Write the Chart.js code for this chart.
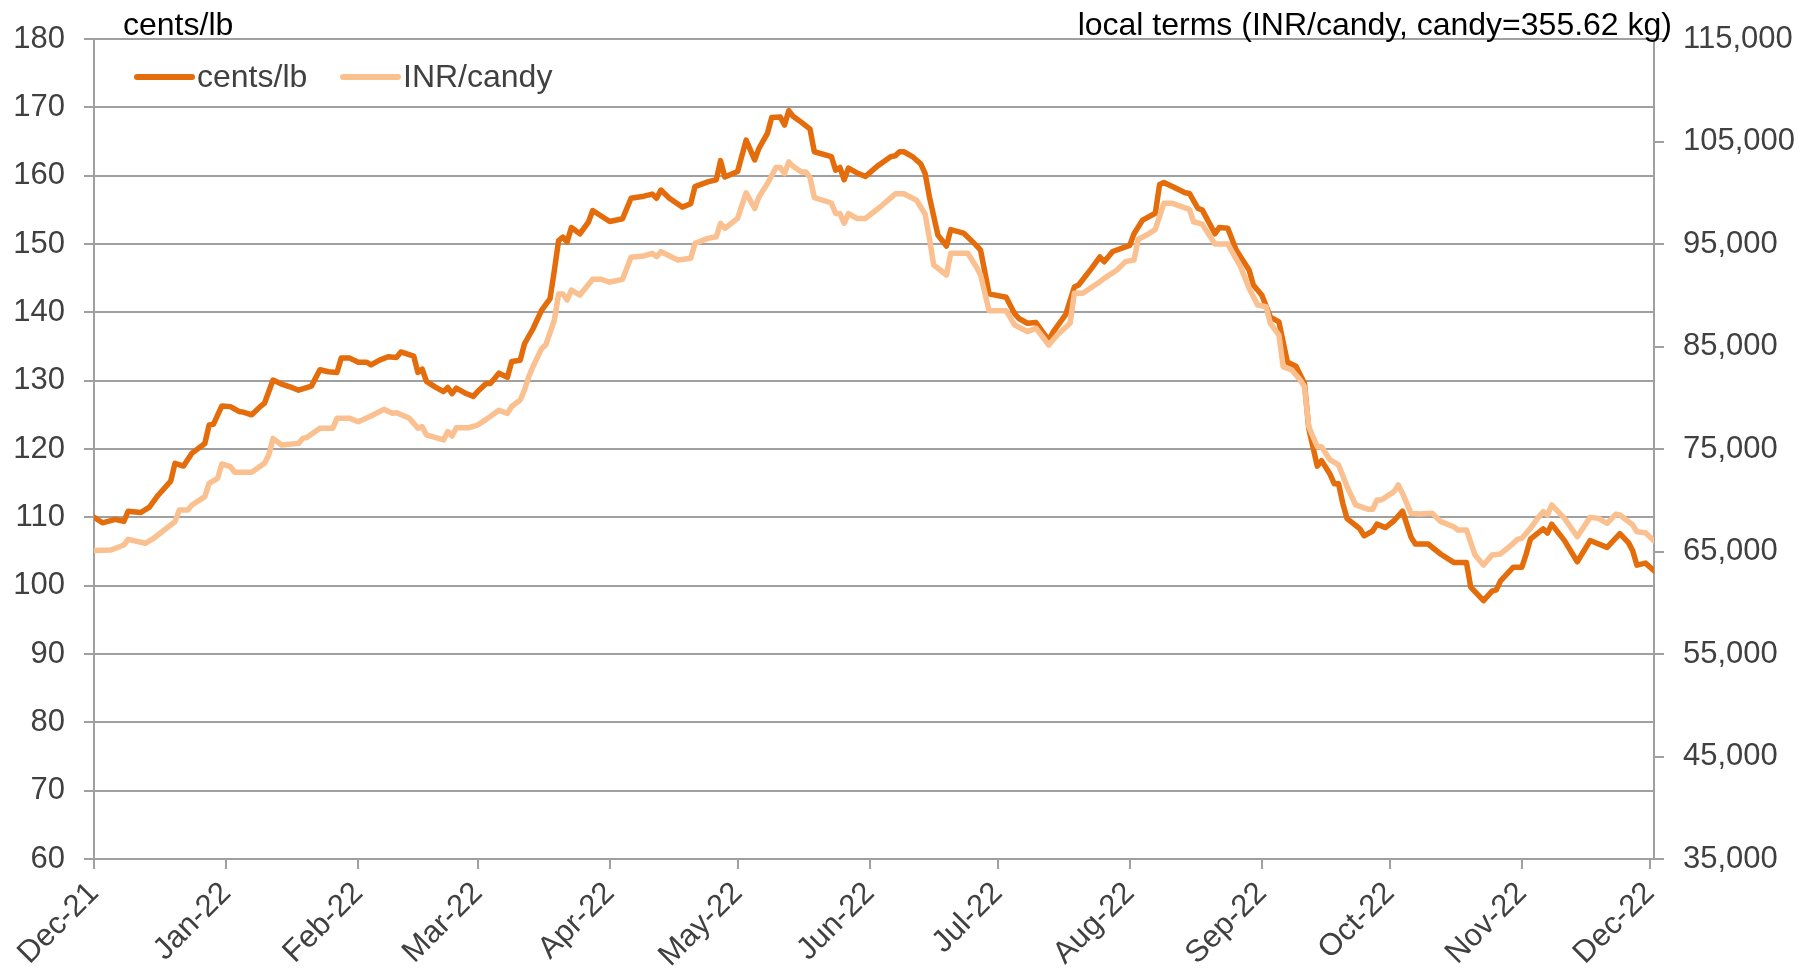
<!DOCTYPE html>
<html>
<head>
<meta charset="utf-8">
<script src="https://cdn.jsdelivr.net/npm/chart.js@4.4.0/dist/chart.umd.min.js"></script>
<style>
html,body{margin:0;padding:0;background:#ffffff;}
canvas{display:block;}
</style>
</head>
<body>
<canvas id="chart" width="1807" height="979"></canvas>
<script>
// ---------- DATA ----------
const monthLabels = ['Dec-21','Jan-22','Feb-22','Mar-22','Apr-22','May-22','Jun-22','Jul-22','Aug-22','Sep-22','Oct-22','Nov-22','Dec-22'];
const monthTickDates = ['2021-12-01','2022-01-01','2022-02-01','2022-03-01','2022-04-01','2022-05-01','2022-06-01','2022-07-01','2022-08-01','2022-09-01','2022-10-01','2022-11-01','2022-12-01'];

const centsDates = ['2021-12-01','2021-12-03','2021-12-06','2021-12-08','2021-12-09','2021-12-12','2021-12-14','2021-12-16','2021-12-19','2021-12-20','2021-12-22','2021-12-24','2021-12-27','2021-12-28','2021-12-29','2021-12-31',
'2022-01-02','2022-01-04','2022-01-05','2022-01-07','2022-01-09','2022-01-10','2022-01-12','2022-01-14','2022-01-16','2022-01-18','2022-01-21','2022-01-23','2022-01-25','2022-01-27','2022-01-28','2022-01-30',
'2022-02-01','2022-02-03','2022-02-04','2022-02-06','2022-02-08','2022-02-10','2022-02-11','2022-02-14','2022-02-15','2022-02-16','2022-02-17','2022-02-19','2022-02-21','2022-02-22','2022-02-23','2022-02-24','2022-02-26','2022-02-28',
'2022-03-01','2022-03-03','2022-03-04','2022-03-06','2022-03-08','2022-03-09','2022-03-11','2022-03-12','2022-03-14','2022-03-16','2022-03-18','2022-03-19','2022-03-20','2022-03-21','2022-03-22','2022-03-23','2022-03-25','2022-03-27','2022-03-28','2022-03-30',
'2022-04-01','2022-04-04','2022-04-06','2022-04-09','2022-04-11','2022-04-12','2022-04-13','2022-04-15','2022-04-18','2022-04-20','2022-04-21','2022-04-24','2022-04-26','2022-04-27','2022-04-28',
'2022-05-01','2022-05-03','2022-05-05','2022-05-06','2022-05-08','2022-05-09','2022-05-11','2022-05-12','2022-05-13','2022-05-14','2022-05-16','2022-05-18','2022-05-19','2022-05-23','2022-05-24','2022-05-25','2022-05-26','2022-05-27','2022-05-29','2022-05-31',
'2022-06-03','2022-06-06','2022-06-07','2022-06-08','2022-06-09','2022-06-11','2022-06-13','2022-06-14','2022-06-15','2022-06-17','2022-06-19','2022-06-20','2022-06-23','2022-06-26','2022-06-27','2022-06-29',
'2022-07-03','2022-07-05','2022-07-06','2022-07-08','2022-07-10','2022-07-13','2022-07-14','2022-07-17','2022-07-19','2022-07-20','2022-07-23','2022-07-25','2022-07-26','2022-07-28',
'2022-08-01','2022-08-02','2022-08-04','2022-08-07','2022-08-08','2022-08-09','2022-08-11','2022-08-14','2022-08-15','2022-08-17','2022-08-18','2022-08-21','2022-08-22','2022-08-24','2022-08-26','2022-08-29','2022-08-30',
'2022-09-01','2022-09-03','2022-09-05','2022-09-07','2022-09-09','2022-09-11','2022-09-12','2022-09-14','2022-09-15','2022-09-17','2022-09-18','2022-09-19','2022-09-20','2022-09-21','2022-09-24','2022-09-25','2022-09-27','2022-09-28','2022-09-30',
'2022-10-02','2022-10-04','2022-10-06','2022-10-07','2022-10-10','2022-10-13','2022-10-16','2022-10-19','2022-10-20','2022-10-23','2022-10-25','2022-10-26','2022-10-27','2022-10-30',
'2022-11-01','2022-11-02','2022-11-03','2022-11-06','2022-11-07','2022-11-08','2022-11-11','2022-11-14','2022-11-17','2022-11-21','2022-11-24','2022-11-26','2022-11-27','2022-11-28','2022-11-30','2022-12-02'];

const centsValues = [110.0,109.2,109.7,109.4,110.9,110.7,111.5,113.2,115.3,117.9,117.5,119.4,120.8,123.5,123.6,126.3,
126.2,125.5,125.4,125.0,126.2,126.7,130.1,129.5,129.1,128.6,129.2,131.6,131.3,131.2,133.3,133.3,
132.7,132.7,132.3,133.0,133.5,133.4,134.2,133.6,131.2,131.7,129.9,129.1,128.4,129.0,128.1,128.9,128.2,127.7,
128.4,129.6,129.6,131.1,130.5,132.8,133.0,135.4,137.6,140.3,142.0,146.1,150.5,151.0,150.3,152.4,151.5,153.2,154.9,154.1,
153.3,153.7,156.7,157.0,157.3,156.7,157.9,156.7,155.4,155.9,158.4,159.1,159.4,162.2,159.8,
160.6,165.2,162.3,164.0,166.2,168.5,168.6,167.4,169.5,168.7,167.8,166.8,163.5,162.8,160.8,161.2,159.4,161.1,160.4,159.9,
161.5,162.8,162.9,163.5,163.5,162.8,161.7,160.3,156.9,151.3,149.7,152.1,151.6,149.8,149.1,142.7,
142.2,139.8,139.1,138.4,138.5,135.9,137.1,139.7,143.7,144.0,146.4,148.1,147.4,148.9,
149.8,151.5,153.5,154.5,158.7,159.0,158.4,157.5,157.4,155.2,155.0,151.5,152.4,152.3,149.1,146.2,144.0,
142.5,139.3,138.6,132.7,132.1,129.6,123.0,117.5,118.3,116.3,114.9,114.9,112.0,109.8,108.3,107.3,108.0,109.0,108.5,
109.5,110.9,107.1,106.1,106.1,104.6,103.4,103.4,99.8,97.8,99.2,99.4,100.7,102.7,
102.7,104.6,106.8,108.3,107.7,109.0,106.6,103.5,106.6,105.6,107.6,106.3,105.1,103.0,103.3,102.2];

const inrDates = ['2021-12-01','2021-12-05','2021-12-08','2021-12-09','2021-12-13','2021-12-15','2021-12-20','2021-12-21','2021-12-23','2021-12-24','2021-12-27','2021-12-28','2021-12-30','2021-12-31',
'2022-01-02','2022-01-03','2022-01-07','2022-01-10','2022-01-11','2022-01-12','2022-01-14','2022-01-18','2022-01-19','2022-01-20','2022-01-23','2022-01-26','2022-01-27','2022-01-30',
'2022-02-01','2022-02-04','2022-02-07','2022-02-09','2022-02-10','2022-02-13','2022-02-15','2022-02-16','2022-02-17','2022-02-21','2022-02-22','2022-02-23','2022-02-24','2022-02-27',
'2022-03-01','2022-03-03','2022-03-06','2022-03-08','2022-03-09','2022-03-11','2022-03-12','2022-03-13','2022-03-14','2022-03-16','2022-03-17','2022-03-19','2022-03-20','2022-03-21','2022-03-22','2022-03-23','2022-03-25','2022-03-28','2022-03-30',
'2022-04-01','2022-04-04','2022-04-06','2022-04-09','2022-04-11','2022-04-12','2022-04-13','2022-04-17','2022-04-20','2022-04-21','2022-04-24','2022-04-26','2022-04-27','2022-04-28',
'2022-05-01','2022-05-03','2022-05-05','2022-05-06','2022-05-08','2022-05-10','2022-05-11','2022-05-12','2022-05-13','2022-05-14','2022-05-16','2022-05-17','2022-05-18','2022-05-19','2022-05-23','2022-05-24','2022-05-25','2022-05-26','2022-05-27','2022-05-29','2022-05-31',
'2022-06-03','2022-06-06','2022-06-07','2022-06-09','2022-06-12','2022-06-14','2022-06-15','2022-06-16','2022-06-19','2022-06-20','2022-06-24','2022-06-26','2022-06-27','2022-06-29',
'2022-07-03','2022-07-05','2022-07-08','2022-07-10','2022-07-13','2022-07-15','2022-07-18','2022-07-19','2022-07-21','2022-07-25','2022-07-26','2022-07-29','2022-07-31',
'2022-08-02','2022-08-03','2022-08-05','2022-08-07','2022-08-09','2022-08-11','2022-08-15','2022-08-16','2022-08-18','2022-08-21','2022-08-24','2022-08-27','2022-08-29','2022-08-31',
'2022-09-02','2022-09-03','2022-09-05','2022-09-06','2022-09-08','2022-09-10','2022-09-11','2022-09-12','2022-09-14','2022-09-15','2022-09-17','2022-09-19','2022-09-21','2022-09-23','2022-09-26','2022-09-27','2022-09-28','2022-09-29',
'2022-10-02','2022-10-03','2022-10-04','2022-10-06','2022-10-08','2022-10-11','2022-10-13','2022-10-16','2022-10-17','2022-10-19','2022-10-21','2022-10-23','2022-10-25','2022-10-27','2022-10-30','2022-10-31',
'2022-11-01','2022-11-03','2022-11-05','2022-11-06','2022-11-07','2022-11-08','2022-11-11','2022-11-14','2022-11-17','2022-11-19','2022-11-21','2022-11-23','2022-11-24','2022-11-27','2022-11-28','2022-11-30','2022-12-02'];

const inrValues = [65100,65140,65630,66190,65800,66290,67910,69050,69050,69540,70350,71650,72140,73540,
73280,72730,72730,73600,74410,76040,75390,75550,76040,76140,77020,77020,77990,77990,
77660,78220,78870,78480,78540,77990,77020,77180,76370,75880,76700,76270,77080,77080,
77340,77890,78770,78480,79150,79780,80760,82050,83030,84800,85150,87580,90120,90120,89540,90510,90020,91550,91550,
91290,91550,93700,93830,94090,93760,94250,93440,93600,95060,95550,95700,97020,96530,
97500,100000,98460,99590,100900,102460,102460,101870,103010,102580,102030,102030,101480,99530,99000,97970,97970,97020,97970,97500,97500,
98460,99530,99900,99900,99270,97900,95550,92950,91980,94090,94090,92790,91980,88500,
88500,87100,86450,86780,85150,86120,87260,90190,90190,91320,91650,92460,93280,
93440,95460,95880,96430,98970,98970,98380,97170,96940,94990,94990,92790,90680,89050,
88880,87260,86120,83030,82710,81730,81080,77180,75220,75220,73930,73440,71320,69540,69120,69120,70020,70020,
70840,71490,70670,68720,68650,68720,67910,67420,67100,67100,64660,63680,64660,64760,65800,66190,
66290,67260,68400,68880,68560,69540,68230,66440,68330,68230,67750,68630,68560,67590,66930,66830,66050];

const seriesNames = ['cents/lb', 'INR/candy'];
const leftAxisTitle = 'cents/lb';
const rightAxisTitle = 'local terms (INR/candy, candy=355.62 kg)';
const leftRange = [60, 180, 10];
const rightRange = [35000, 115000, 10000];

// ---------- CHART ----------
const START = Date.parse('2021-12-01');
const toDay = s => (Date.parse(s) - START) / 86400000;
const FONT = "'Liberation Sans', Arial, Helvetica, sans-serif";
const DARK = '#E46C0A';
const LIGHT = '#FAC090';
const GRID = '#A0A0A0';
const LABEL = '#404040';
const fmt = v => String(v).replace(/\B(?=(\d{3})+(?!\d))/g, ',');

const overlayPlugin = {
  id: 'overlay',
  afterDraw(chart) {
    const ctx = chart.ctx;
    const a = chart.chartArea;
    ctx.save();
    // axis titles
    ctx.font = '32px ' + FONT;
    ctx.fillStyle = '#000000';
    ctx.textBaseline = 'alphabetic';
    ctx.textAlign = 'left';
    ctx.fillText(leftAxisTitle, a.left + 29, a.top - 4);
    ctx.textAlign = 'right';
    ctx.fillText(rightAxisTitle, a.right + 18, a.top - 4);
    // legend
    const ly = a.top + 38;
    const items = [{x: a.left + 43, c: DARK, t: seriesNames[0]}, {x: a.left + 249, c: LIGHT, t: seriesNames[1]}];
    ctx.font = '32px ' + FONT;
    ctx.textAlign = 'left';
    ctx.textBaseline = 'middle';
    ctx.lineCap = 'round';
    items.forEach(it => {
      ctx.strokeStyle = it.c;
      ctx.lineWidth = 6;
      ctx.beginPath();
      ctx.moveTo(it.x, ly);
      ctx.lineTo(it.x + 55, ly);
      ctx.stroke();
      ctx.fillStyle = LABEL;
      ctx.fillText(it.t, it.x + 60, ly + 1);
    });
    ctx.restore();
  }
};

new Chart(document.getElementById('chart'), {
  type: 'line',
  data: {
    datasets: [
      {
        label: seriesNames[0],
        data: centsDates.map((d, i) => ({x: toDay(d), y: centsValues[i]})),
        yAxisID: 'y',
        borderColor: DARK,
        backgroundColor: DARK,
        borderWidth: 5.5,
        pointRadius: 0,
        tension: 0,
        borderJoinStyle: 'round',
        borderCapStyle: 'round',
        order: 2
      },
      {
        label: seriesNames[1],
        data: inrDates.map((d, i) => ({x: toDay(d), y: inrValues[i]})),
        yAxisID: 'y1',
        borderColor: LIGHT,
        backgroundColor: LIGHT,
        borderWidth: 5.5,
        pointRadius: 0,
        tension: 0,
        borderJoinStyle: 'round',
        borderCapStyle: 'round',
        order: 1
      }
    ]
  },
  options: {
    responsive: false,
    animation: false,
    devicePixelRatio: 1,
    layout: {padding: {top: 39, left: 0, right: 0, bottom: 0}},
    plugins: {legend: {display: false}, tooltip: {enabled: false}},
    scales: {
      x: {
        type: 'linear',
        min: 0,
        max: toDay(centsDates[centsDates.length - 1]),
        afterBuildTicks: s => { s.ticks = monthTickDates.map(d => ({value: toDay(d)})); },
        afterFit: s => { s.height = 120; },
        ticks: {
          autoSkip: false,
          maxRotation: 45,
          minRotation: 45,
          padding: 6,
          color: LABEL,
          font: {family: FONT, size: 31},
          callback: (v, i) => monthLabels[i]
        },
        grid: {drawOnChartArea: false, drawTicks: true, tickLength: 10, color: GRID, lineWidth: 2},
        border: {display: true, color: GRID, width: 2}
      },
      y: {
        position: 'left',
        min: leftRange[0],
        max: leftRange[1],
        afterFit: s => { s.width = 94; },
        ticks: {stepSize: leftRange[2], padding: 19, color: LABEL, font: {family: FONT, size: 31}},
        grid: {color: GRID, lineWidth: 2, drawTicks: true, tickLength: 10},
        border: {display: true, color: GRID, width: 2}
      },
      y1: {
        position: 'right',
        min: rightRange[0],
        max: rightRange[1],
        afterFit: s => { s.width = 153; },
        ticks: {stepSize: rightRange[2], padding: 19, color: LABEL, font: {family: FONT, size: 31}, callback: v => fmt(v)},
        grid: {drawOnChartArea: false, drawTicks: true, tickLength: 10, color: GRID, lineWidth: 2},
        border: {display: true, color: GRID, width: 2}
      }
    }
  },
  plugins: [overlayPlugin]
});
</script>
</body>
</html>
